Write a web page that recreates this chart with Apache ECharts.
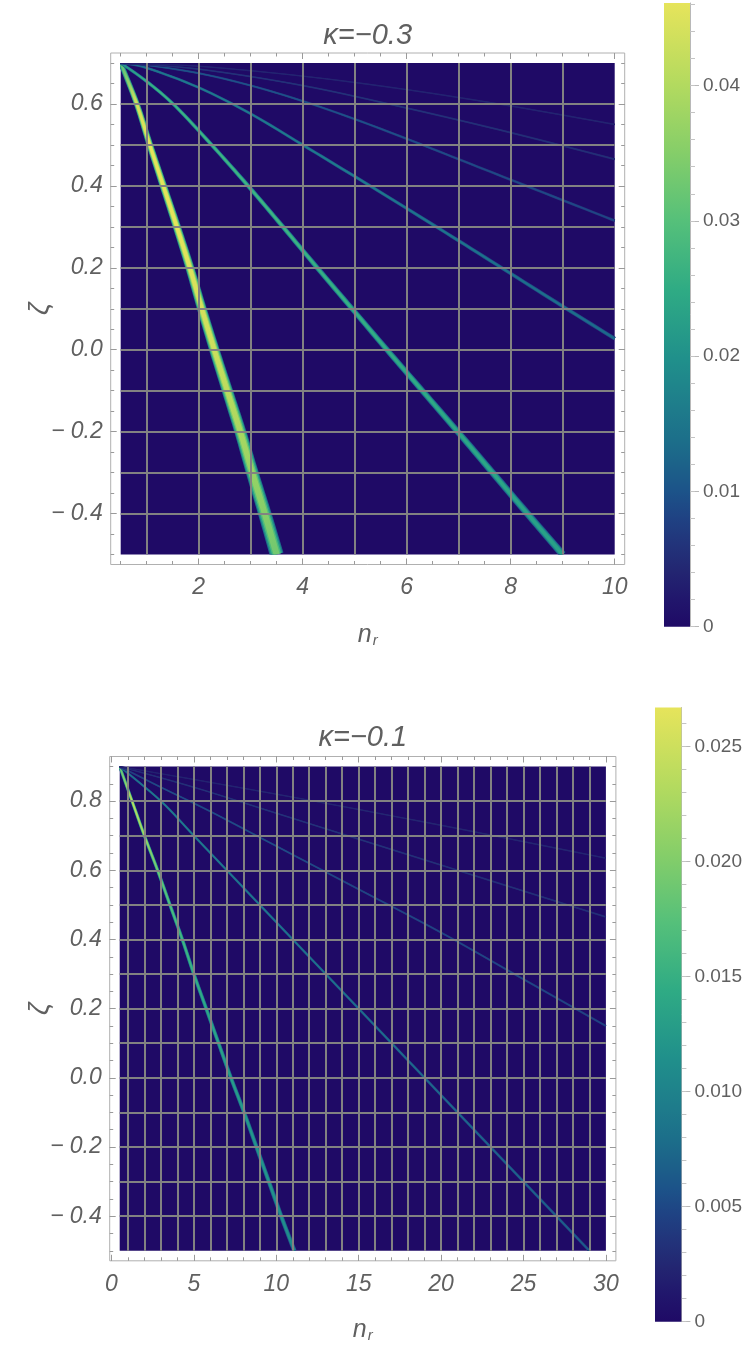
<!DOCTYPE html>
<html>
<head>
<meta charset="utf-8">
<script src="https://cdn.jsdelivr.net/npm/echarts@6/dist/echarts.min.js"></script>
<style>
html,body{margin:0;padding:0;background:#ffffff;}
#chart{width:747px;height:1345px;}
</style>
</head>
<body>
<div id="chart"></div>
<script>
// ================= DATA =================
// ---- panel 1 : kappa = -0.3 ----
const K03_TITLE = 'κ=−0.3';
const K03_N_RANGE = [0.5, 10];
const K03_Z_RANGE = [-0.5, 0.7];
const K03_N_TICKS = [2, 4, 6, 8, 10];
const K03_Z_TICKS = [-0.4, -0.2, 0, 0.2, 0.4, 0.6];
const K03_CB_MAX = 0.0461;
const K03_CB_TICKS = [0, 0.01, 0.02, 0.03, 0.04];
// ridges of the density: [n_r, zeta, density]
const K03_RIDGE_1 = [[0.5,0.70,0.030],[0.81,0.60,0.044],[1.06,0.50,0.046],[1.32,0.40,0.046],[1.58,0.30,0.046],[1.83,0.20,0.045],[2.06,0.10,0.044],[2.30,0.00,0.043],[2.55,-0.10,0.041],[2.80,-0.20,0.039],[3.03,-0.30,0.037],[3.27,-0.40,0.035],[3.50,-0.50,0.033]];
const K03_RIDGE_2 = [[0.5,0.70,0.020],[1.0,0.655,0.026],[1.55,0.595,0.027],[2.25,0.50,0.027],[2.95,0.40,0.027],[3.62,0.30,0.027],[4.28,0.20,0.026],[4.95,0.10,0.026],[5.62,0.00,0.025],[6.3,-0.10,0.025],[6.98,-0.20,0.024],[7.65,-0.30,0.024],[8.32,-0.40,0.023],[9.0,-0.50,0.023]];
const K03_RIDGE_3 = [[0.5,0.70,0.012],[1,0.688,0.015],[2,0.64,0.016],[3,0.576,0.016],[4,0.50,0.016],[5,0.423,0.016],[6,0.345,0.015],[7,0.266,0.015],[8,0.186,0.014],[9,0.106,0.014],[10,0.027,0.013]];
const K03_RIDGE_4 = [[0.5,0.70,0.008],[1,0.695,0.010],[2,0.675,0.010],[3,0.645,0.010],[4,0.607,0.010],[5,0.563,0.010],[6,0.515,0.0095],[7,0.465,0.009],[8,0.415,0.009],[9,0.365,0.009],[10,0.315,0.0085]];
const K03_RIDGE_5 = [[0.5,0.70,0.005],[2,0.685,0.006],[4,0.645,0.006],[6,0.59,0.006],[8,0.53,0.0055],[10,0.465,0.0055]];
const K03_RIDGE_6 = [[0.5,0.70,0.003],[2,0.692,0.004],[4,0.668,0.004],[6,0.635,0.004],[8,0.595,0.004],[10,0.55,0.004]];

// ---- panel 2 : kappa = -0.1 ----
const K01_TITLE = 'κ=−0.1';
const K01_N_RANGE = [0.5, 30];
const K01_Z_RANGE = [-0.5, 0.9];
const K01_N_TICKS = [0, 5, 10, 15, 20, 25, 30];
const K01_Z_TICKS = [-0.4, -0.2, 0, 0.2, 0.4, 0.6, 0.8];
const K01_CB_MAX = 0.0267;
const K01_CB_TICKS = [0, 0.005, 0.010, 0.015, 0.020, 0.025];
const K01_RIDGE_1 = [[0.5,0.9,0.018],[1.25,0.8,0.024],[2.0,0.7,0.022],[2.8,0.6,0.019],[3.55,0.5,0.017],[4.3,0.4,0.016],[5.0,0.3,0.015],[5.75,0.2,0.014],[6.5,0.1,0.0135],[7.25,0.0,0.013],[8.05,-0.1,0.0125],[8.8,-0.2,0.012],[9.55,-0.3,0.012],[10.3,-0.4,0.0115],[11.1,-0.5,0.011]];
const K01_RIDGE_2 = [[0.5,0.9,0.008],[3,0.8,0.0095],[5,0.7,0.0095],[7,0.6,0.009],[9,0.5,0.009],[11,0.4,0.0085],[13,0.3,0.0085],[15,0.2,0.008],[17,0.1,0.008],[19,0.0,0.0075],[21,-0.1,0.0075],[23,-0.2,0.007],[25,-0.3,0.007],[27,-0.4,0.0068],[29,-0.5,0.0065]];
const K01_RIDGE_3 = [[0.5,0.9,0.004],[3,0.84,0.0055],[6,0.77,0.0055],[10,0.67,0.0055],[15,0.545,0.005],[20,0.42,0.005],[25,0.285,0.005],[30,0.15,0.0048]];
const K01_RIDGE_4 = [[0.5,0.9,0.003],[5,0.84,0.0035],[10,0.765,0.0035],[15,0.69,0.0035],[20,0.615,0.0033],[25,0.54,0.0033],[30,0.465,0.0032]];
const K01_RIDGE_5 = [[0.5,0.9,0.002],[10,0.82,0.0025],[20,0.73,0.0025],[30,0.635,0.0024]];

// ================= STYLE / LAYOUT =================
const FONT = '"Liberation Sans", Arial, Helvetica, sans-serif';
const TEXT_COLOR = '#606060';
const FRAME_COLOR = '#b0b0b0';
const TICK_COLOR = '#9a9a9a';
const GRID_COLOR = '#828282';
const PALETTE_POS = [0, 0.043, 0.087, 0.13, 0.174, 0.217, 0.26, 0.30, 0.347, 0.39, 0.43, 0.54, 0.65, 0.76, 0.87, 1.0];
const PALETTE = ['#1f0a66','#21166c','#232571','#22337a','#1f4283','#1c5389','#1c6289','#1c6f8a','#1e7b8b','#1f868b','#20908b','#2fab84','#55c07a','#85ce69','#b3da5f','#e6e45b'];
// cross-section of a ridge: relative width and relative intensity of each layer
const LAYERS = [{w:1.0,k:0.4},{w:0.84,k:0.65},{w:0.64,k:0.86},{w:0.44,k:1.0}];

const PANELS = [
  {
    title: K03_TITLE, nRange: K03_N_RANGE, zRange: K03_Z_RANGE,
    nTicks: K03_N_TICKS, nMinor: 0.5, zTicks: K03_Z_TICKS, zMinor: 0.05,
    nGrid: 1, zGrid: 0.1,
    cbMax: K03_CB_MAX, cbTicks: K03_CB_TICKS, cbMinor: 0.002, cbDigits: 2,
    ridges: [K03_RIDGE_1, K03_RIDGE_2, K03_RIDGE_3, K03_RIDGE_4, K03_RIDGE_5, K03_RIDGE_6],
    widths: [[5,14],[3,7.5],[2.5,4],[2,2.8],[1.6,2],[1.3,1.6]],
    plot: {left:120.7, top:63, width:494, height:491.5}, pad: 10,
    titleY: 36, nameY: 635, zetaX: 40,
    cb: {left:664, top:3, width:26, height:623.7}
  },
  {
    title: K01_TITLE, nRange: K01_N_RANGE, zRange: K01_Z_RANGE,
    nTicks: K01_N_TICKS, nMinor: 1, zTicks: K01_Z_TICKS, zMinor: 0.05,
    nGrid: 1, zGrid: 0.1,
    cbMax: K01_CB_MAX, cbTicks: K01_CB_TICKS, cbMinor: 0.001, cbDigits: 3,
    ridges: [K01_RIDGE_1, K01_RIDGE_2, K01_RIDGE_3, K01_RIDGE_4, K01_RIDGE_5],
    widths: [[3,4.5],[2.2,2.8],[1.8,2.2],[1.5,1.8],[1.3,1.5]],
    plot: {left:119.7, top:766.5, width:486.2, height:484.3}, pad: 10,
    titleY: 738, nameY: 1330, zetaX: 40,
    cb: {left:655, top:707.5, width:26.4, height:614.2}
  }
];

// ================= helpers =================
function hexToRgb(h){ return [parseInt(h.slice(1,3),16),parseInt(h.slice(3,5),16),parseInt(h.slice(5,7),16)]; }
const PAL_RGB = PALETTE.map(hexToRgb);
function colorAt(t){
  t = Math.max(0, Math.min(1, t));
  let i = 0;
  while (i < PALETTE_POS.length - 2 && t > PALETTE_POS[i+1]) i++;
  const a = PALETTE_POS[i], b = PALETTE_POS[i+1];
  const f = (t - a) / (b - a);
  const c = PAL_RGB[i].map((v, j) => Math.round(v + (PAL_RGB[i+1][j] - v) * f));
  return 'rgb(' + c.join(',') + ')';
}
function steps(lo, hi, step){
  const out = [];
  const n0 = Math.ceil(lo/step - 1e-9), n1 = Math.floor(hi/step + 1e-9);
  for (let k = n0; k <= n1; k++) out.push(Math.round(k*step*1e6)/1e6);
  return out;
}
function zetaLabel(v){
  if (Math.abs(v) < 1e-9) return '0.0';
  return v < 0 ? '− ' + Math.abs(v).toFixed(1) : v.toFixed(1);
}
// smooth drawing path through the pixel points (Catmull-Rom), like a smoothed line
function smoothPath(pts, segs){
  const out = [];
  for (let i = 0; i < pts.length - 1; i++) {
    const p0 = pts[Math.max(i-1,0)], p1 = pts[i], p2 = pts[i+1], p3 = pts[Math.min(i+2,pts.length-1)];
    for (let s = 0; s < segs; s++) {
      const t = s/segs, t2 = t*t, t3 = t2*t;
      out.push([0,1].map(k => 0.5*((2*p1[k]) + (-p0[k]+p2[k])*t + (2*p0[k]-5*p1[k]+4*p2[k]-p3[k])*t2 + (-p0[k]+3*p1[k]-3*p2[k]+p3[k])*t3)));
    }
  }
  out.push(pts[pts.length-1].slice());
  return out;
}
function makeRenderItem(panel){
  return function(params, api){
    const idx = api.value(2);
    const ridge = panel.ridges[idx];
    const w0 = panel.widths[idx][0], w1 = panel.widths[idx][1];
    const raw = ridge.map(p => api.coord([p[0], p[1]]));
    const vals = ridge.map(p => p[2]);
    const pts = smoothPath(raw, 8);
    const cum = [0];
    for (let i = 1; i < pts.length; i++) cum.push(cum[i-1] + Math.hypot(pts[i][0]-pts[i-1][0], pts[i][1]-pts[i-1][1]));
    const total = cum[cum.length-1] || 1;
    const normals = pts.map((p, i) => {
      const a = pts[Math.max(i-1,0)], b = pts[Math.min(i+1,pts.length-1)];
      const dx = b[0]-a[0], dy = b[1]-a[1];
      const l = Math.hypot(dx, dy) || 1;
      return [-dy/l, dx/l];
    });
    const s = raw[0], e = raw[raw.length-1];
    const vx = e[0]-s[0], vy = e[1]-s[1], vl2 = vx*vx + vy*vy || 1;
    const offs = raw.map(p => Math.min(1, Math.max(0, ((p[0]-s[0])*vx + (p[1]-s[1])*vy)/vl2)));
    for (let i = 1; i < offs.length; i++) if (offs[i] < offs[i-1]) offs[i] = offs[i-1];
    const children = LAYERS.map(layer => {
      const left = [], right = [];
      pts.forEach((p, i) => {
        const hw = (w0 + (w1-w0)*cum[i]/total) * layer.w / 2;
        left.push([p[0] + normals[i][0]*hw, p[1] + normals[i][1]*hw]);
        right.push([p[0] - normals[i][0]*hw, p[1] - normals[i][1]*hw]);
      });
      const stops = offs.map((o, i) => ({offset: o, color: colorAt(vals[i]*layer.k/panel.cbMax)}));
      return {
        type: 'polygon',
        shape: {points: left.concat(right.reverse())},
        style: {fill: new echarts.graphic.LinearGradient(s[0], s[1], e[0], e[1], stops, true)}
      };
    });
    return {type: 'group', children: children};
  };
}

// ================= build option =================
const grid = [], xAxis = [], yAxis = [], series = [], graphic = [];
const labelStyle = {fontFamily: FONT, fontSize: 23, fontStyle: 'italic', color: TEXT_COLOR};

PANELS.forEach(P => {
  const L = P.plot, pad = P.pad;
  const pxN = L.width / (P.nRange[1]-P.nRange[0]);
  const pxZ = L.height / (P.zRange[1]-P.zRange[0]);
  const fN = [P.nRange[0] - pad/pxN, P.nRange[1] + pad/pxN];
  const fZ = [P.zRange[0] - pad/pxZ, P.zRange[1] + pad/pxZ];

  const gi = grid.length;
  grid.push({left:L.left, top:L.top, width:L.width, height:L.height, show:true,
    backgroundColor: colorAt(0), borderWidth:0, containLabel:false, outerBoundsMode:'none'});
  const gf = grid.length;
  grid.push({left:L.left-pad, top:L.top-pad, width:L.width+2*pad, height:L.height+2*pad, show:true,
    backgroundColor:'transparent', borderColor:FRAME_COLOR, borderWidth:1, containLabel:false, outerBoundsMode:'none'});
  const gc = grid.length;
  grid.push({left:P.cb.left, top:P.cb.top, width:P.cb.width, height:P.cb.height, show:false, containLabel:false, outerBoundsMode:'none'});

  const gridN = steps(P.nRange[0], P.nRange[1], P.nGrid).filter(v => v > P.nRange[0] && v < P.nRange[1]);
  const gridZ = steps(P.zRange[0], P.zRange[1], P.zGrid).filter(v => v > P.zRange[0]+1e-9 && v < P.zRange[1]-1e-9);
  const xi = xAxis.length;
  xAxis.push({gridIndex:gi, type:'value', min:P.nRange[0], max:P.nRange[1], z:10,
    axisLine:{show:false, onZero:false}, axisTick:{show:false, customValues:gridN}, axisLabel:{show:false, customValues:gridN},
    splitLine:{show:true, customValues:gridN, lineStyle:{color:GRID_COLOR, width:2}}});
  const yi = yAxis.length;
  yAxis.push({gridIndex:gi, type:'value', min:P.zRange[0], max:P.zRange[1], z:10,
    axisLine:{show:false, onZero:false}, axisTick:{show:false, customValues:gridZ}, axisLabel:{show:false, customValues:gridZ},
    splitLine:{show:true, customValues:gridZ, lineStyle:{color:GRID_COLOR, width:2}}});

  const nMinor = steps(fN[0], fN[1], P.nMinor);
  const zMinor = steps(fZ[0], fZ[1], P.zMinor);
  const frameX = (pos, ticks, len, labels) => ({gridIndex:gf, type:'value', position:pos, min:fN[0], max:fN[1],
    axisLine:{show:false, onZero:false},
    axisTick:{show:true, inside:true, length:len, customValues:ticks, lineStyle:{color:TICK_COLOR, width:1}},
    axisLabel: labels ? Object.assign({show:true, margin:12, customValues:labels, formatter: v => String(Math.round(v))}, labelStyle) : {show:false},
    splitLine:{show:false}});
  const frameY = (pos, ticks, len, labels) => ({gridIndex:gf, type:'value', position:pos, min:fZ[0], max:fZ[1],
    axisLine:{show:false, onZero:false},
    axisTick:{show:true, inside:true, length:len, customValues:ticks, lineStyle:{color:TICK_COLOR, width:1}},
    axisLabel: labels ? Object.assign({show:true, margin:8, customValues:labels, formatter: zetaLabel}, labelStyle) : {show:false},
    splitLine:{show:false}});
  xAxis.push(frameX('bottom', P.nTicks, 6, P.nTicks));
  xAxis.push(frameX('bottom', nMinor, 3.5, null));
  xAxis.push(frameX('top', P.nTicks, 6, null));
  xAxis.push(frameX('top', nMinor, 3.5, null));
  yAxis.push(frameY('left', P.zTicks, 6, P.zTicks));
  yAxis.push(frameY('left', zMinor, 3.5, null));
  yAxis.push(frameY('right', P.zTicks, 6, null));
  yAxis.push(frameY('right', zMinor, 3.5, null));

  const cbx = xAxis.length;
  xAxis.push({gridIndex:gc, type:'category', data:[''], show:false});
  const cby = yAxis.length;
  const cbFmt = v => (Math.abs(v) < 1e-12 ? '0' : v.toFixed(P.cbDigits));
  yAxis.push({gridIndex:gc, type:'value', position:'right', min:0, max:P.cbMax,
    axisLine:{show:true, onZero:false, lineStyle:{color:'#b8b8b8', width:1}},
    axisTick:{show:true, inside:false, length:9, customValues:P.cbTicks, lineStyle:{color:'#b8b8b8'}},
    axisLabel:{show:true, margin:13, customValues:P.cbTicks, formatter:cbFmt, fontFamily:FONT, fontSize:19, color:TEXT_COLOR},
    splitLine:{show:false}});
  yAxis.push({gridIndex:gc, type:'value', position:'right', min:0, max:P.cbMax,
    axisLine:{show:false, onZero:false},
    axisTick:{show:true, inside:false, length:5, customValues:steps(0, P.cbMax, P.cbMinor), lineStyle:{color:'#c4c4c4'}},
    axisLabel:{show:false}, splitLine:{show:false}});

  series.push({
    type:'bar', xAxisIndex:cbx, yAxisIndex:cby, data:[P.cbMax], barWidth:'100%', silent:true,
    itemStyle:{color: new echarts.graphic.LinearGradient(0, 1, 0, 0,
      PALETTE.map((c, i) => ({offset: PALETTE_POS[i], color: c})))}
  });

  series.push({
    type:'custom', xAxisIndex:xi, yAxisIndex:yi, z:2, clip:true, silent:true,
    renderItem: makeRenderItem(P),
    data: P.ridges.map((r, i) => [r[0][0], r[0][1], i])
  });

  const cx = L.left + L.width/2;
  graphic.push({type:'text', x:cx, y:P.titleY, style:{text:P.title, font:'italic 29px ' + FONT, fill:TEXT_COLOR,
    align:'center', verticalAlign:'middle', textAlign:'center', textVerticalAlign:'middle'}});
  graphic.push({type:'text', x:cx, y:P.nameY, style:{text:'{n|n}{r|r}', fill:TEXT_COLOR,
    align:'center', verticalAlign:'middle', textAlign:'center', textVerticalAlign:'middle',
    rich:{n:{font:'italic 25px ' + FONT, fill:TEXT_COLOR}, r:{font:'italic 15px ' + FONT, fill:TEXT_COLOR, padding:[12,0,0,1]}}}});
  graphic.push({type:'text', x:P.zetaX, y:L.top + L.height/2, rotation:Math.PI/2, style:{text:'ζ', font:'italic 27px ' + FONT, fill:TEXT_COLOR,
    align:'center', verticalAlign:'middle', textAlign:'center', textVerticalAlign:'middle'}});
});

const chart = echarts.init(document.getElementById('chart'), null, {renderer:'canvas'});
chart.setOption({
  animation:false,
  backgroundColor:'#ffffff',
  grid: grid, xAxis: xAxis, yAxis: yAxis, series: series, graphic: graphic
});
</script>
</body>
</html>
